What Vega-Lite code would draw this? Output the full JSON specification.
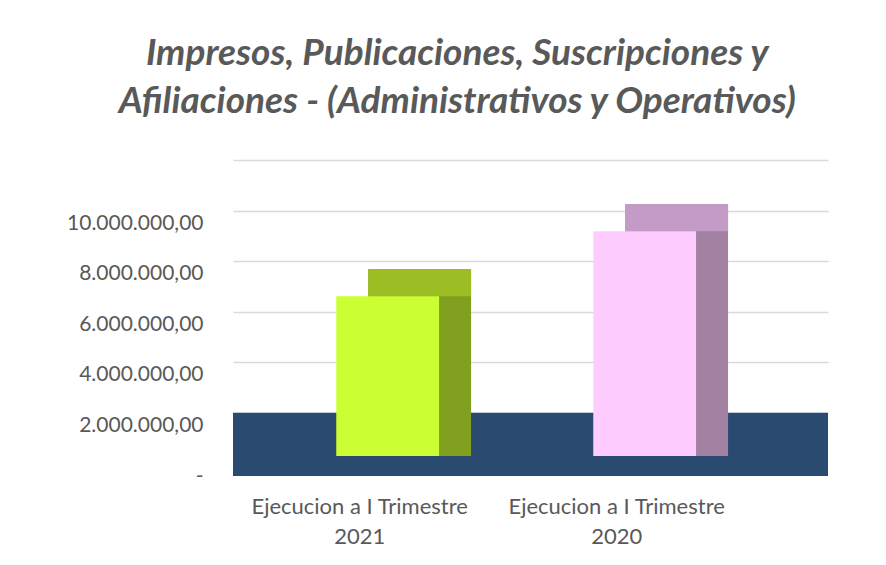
{
  "$schema": "https://vega.github.io/schema/vega-lite/v6.json",
  "width": 595,
  "height": 316,
  "padding": {"left": 66, "top": 35, "right": 5, "bottom": 5},
  "background": "white",
  "config": {"view": {"stroke": null}, "font": "Lato"},
  "title": {
    "text": ["Impresos, Publicaciones, Suscripciones y", "Afiliaciones - (Administrativos y Operativos)"],
    "font": "Lato",
    "fontSize": 37,
    "fontWeight": "bold",
    "fontStyle": "italic",
    "color": "#595959",
    "lineHeight": 48,
    "anchor": "middle",
    "frame": "bounds",
    "offset": 39,
    "dx": 10
  },
  "data": {
    "values": [
      {"periodo": "Ejecucion a  I Trimestre 2021", "monto": 6320000},
      {"periodo": "Ejecucion a I Trimestre 2020", "monto": 8890000}
    ]
  },
  "layer": [
    {
      "data": {"values": [{"piso": "piso"}]},
      "mark": {"type": "rect", "color": "#2b4a70"},
      "encoding": {
        "y": {
          "datum": 0,
          "type": "quantitative",
          "scale": {"domain": [0, 12500000], "nice": false},
          "axis": {
            "orient": "left",
            "title": null,
            "values": [0, 2000000, 4000000, 6000000, 8000000, 10000000],
            "labelExpr": "datum.value == 0 ? '-' : replace(replace(replace(format(datum.value, ',.2f'), regexp('[,]','g'), '#'), regexp('[.]','g'), ','), regexp('#','g'), '.')",
            "grid": false,
            "ticks": false,
            "domain": false,
            "labelPadding": 30,
            "labelFontSize": 21,
            "labelColor": "#595959",
            "labelFont": "Lato"
          }
        },
        "y2": {"datum": 2500000}
      }
    },
    {
      "mark": {"type": "bar", "xOffset": 60, "yOffset": -47, "y2Offset": -20},
      "encoding": {
        "x": {
          "field": "periodo",
          "type": "nominal",
          "sort": null,
          "scale": {"paddingInner": 0.6, "paddingOuter": 0.4576, "align": 0.32},
          "axis": {
            "title": null,
            "domain": false,
            "ticks": false,
            "labelAngle": 0,
            "labelPadding": 20,
            "labelFontSize": 22,
            "labelLineHeight": 30,
            "labelColor": "#595959",
            "labelFont": "Lato",
            "labelLimit": 0,
            "labelExpr": "[slice(datum.label, 0, -5), slice(datum.label, -4)]"
          }
        },
        "y": {
          "field": "monto",
          "type": "quantitative",
          "axis": {
            "orient": "right",
            "title": null,
            "values": [2500000, 4500000, 6500000, 8500000, 10500000, 12500000],
            "labels": false,
            "ticks": false,
            "domain": false,
            "grid": true,
            "gridColor": "#d9d9d9",
            "gridWidth": 1.5
          }
        },
        "y2": {"datum": 0},
        "color": {
          "field": "periodo",
          "type": "nominal",
          "sort": null,
          "scale": {"domain": ["Ejecucion a  I Trimestre 2021", "Ejecucion a I Trimestre 2020"], "range": ["#82a020", "#a281a2"]},
          "legend": null
        }
      }
    },
    {
      "mark": {"type": "bar", "xOffset": 60, "yOffset": -47, "y2Offset": -20},
      "encoding": {
        "x": {"field": "periodo", "type": "nominal", "sort": null},
        "y": {"field": "monto", "type": "quantitative", "axis": null},
        "y2": {"field": "monto"},
        "color": {
          "field": "periodo",
          "type": "nominal",
          "sort": null,
          "scale": {"domain": ["Ejecucion a  I Trimestre 2021", "Ejecucion a I Trimestre 2020"], "range": ["#9dbd25", "#c39bc6"]},
          "legend": null
        }
      }
    },
    {
      "mark": {"type": "bar", "xOffset": 28, "yOffset": -20, "y2Offset": -20},
      "encoding": {
        "x": {"field": "periodo", "type": "nominal", "sort": null},
        "y": {"field": "monto", "type": "quantitative", "axis": null},
        "y2": {"datum": 0},
        "color": {
          "field": "periodo",
          "type": "nominal",
          "sort": null,
          "scale": {"domain": ["Ejecucion a  I Trimestre 2021", "Ejecucion a I Trimestre 2020"], "range": ["#ccff33", "#ffccff"]},
          "legend": null
        }
      }
    }
  ],
  "resolve": {"scale": {"color": "independent"}, "axis": {"y": "independent"}}
}
